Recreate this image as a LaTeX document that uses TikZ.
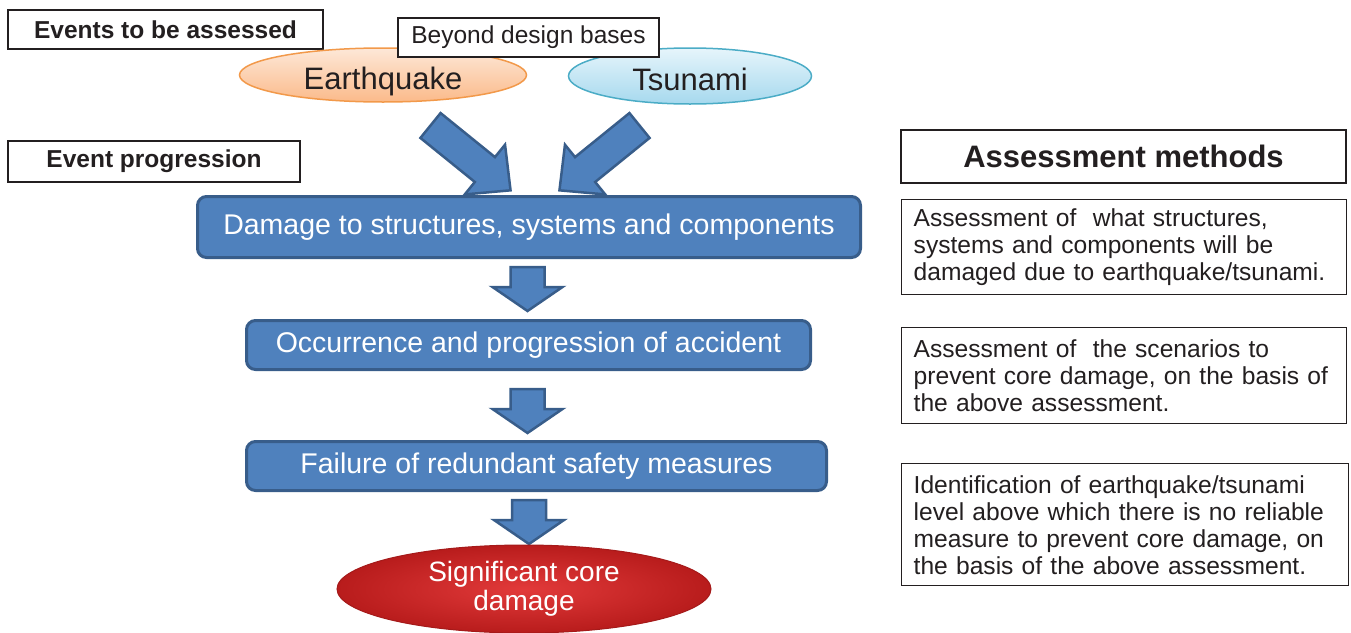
\documentclass[tikz,border=0pt]{standalone}
\usepackage{fontspec}
\setmainfont{Liberation Sans}
\usetikzlibrary{shapes.geometric}
\definecolor{bfill}{HTML}{4F81BD}
\definecolor{bdraw}{HTML}{385D8A}
\definecolor{ink}{HTML}{231F20}
\definecolor{eqtop}{HTML}{FDE8D8}
\definecolor{eqbot}{HTML}{FBBA8A}
\definecolor{eqdraw}{HTML}{F2994A}
\definecolor{tstop}{HTML}{E6F5FB}
\definecolor{tsbot}{HTML}{A6D9EE}
\definecolor{tsdraw}{HTML}{4BACC6}
\definecolor{redin}{HTML}{E23A3A}
\definecolor{redout}{HTML}{B81C1C}
\definecolor{reddraw}{HTML}{A51A1A}
\newcommand\myfs[2]{\fontsize{#1}{#2}\selectfont}
\tikzset{
  labelbox/.style={draw=ink, line width=1.4pt, fill=white, inner sep=0pt, text=ink},
  methodbox/.style={draw=ink, line width=1.4pt, fill=white, inner xsep=12pt, inner ysep=0pt,
    text=ink, align=left, anchor=north west, font=\myfs{24.6}{27}},
  stepbox/.style={draw=bdraw, line width=3pt, fill=bfill, rounded corners=9pt, inner sep=0pt,
    text=white, font=\myfs{28.5}{30}},
  hazard/.style={ellipse, line width=1.5pt, inner sep=0pt, text=ink, font=\myfs{31}{33},
    text height=28pt, text depth=0pt},
  blockarrow/.style={fill=bfill, draw=bdraw, line width=2.5pt, line join=miter},
  darr/.pic={\path[blockarrow] (-17,0) -- (17,0) -- (17,20) -- (35,20) -- (0,44) -- (-35,20) -- (-17,20) -- cycle;}
}
\begin{document}
\begin{tikzpicture}[x=1pt,y=-1pt]
\useasboundingbox (0,0) rectangle (1351,632);

% header label boxes
\node[labelbox, minimum width=315pt, minimum height=39pt, font=\bfseries\myfs{24.5}{26}] (events) at (165.5,29.5) {Events to be assessed};
\node[labelbox, minimum width=292pt, minimum height=41pt, font=\bfseries\myfs{24.5}{26}] (prog) at (154,161.5) {Event progression};

% hazards
\node[hazard, draw=eqdraw, top color=eqtop, bottom color=eqbot, minimum width=287pt, minimum height=54pt] (eq) at (383,75) {Earthquake};
\node[hazard, draw=tsdraw, top color=tstop, bottom color=tsbot, minimum width=243pt, minimum height=56pt] (ts) at (690,76) {Tsunami};
\node[labelbox, minimum width=261pt, minimum height=39pt, font=\myfs{24.5}{26}] (beyond) at (528.5,37.5) {Beyond design bases};

% diagonal block arrows
\begin{scope}[shift={(430.5,125.5)},rotate=-39]
  \path[blockarrow] (0,-16) -- (70,-16) -- (70,-32) -- (103,0) -- (70,32) -- (70,16) -- (0,16) -- cycle;
\end{scope}
\begin{scope}[shift={(639.5,125.5)},rotate=-141]
  \path[blockarrow] (0,-16) -- (70,-16) -- (70,-32) -- (103,0) -- (70,32) -- (70,16) -- (0,16) -- cycle;
\end{scope}

% progression steps
\node[stepbox, minimum width=663pt, minimum height=61pt] (s1) at (529,227) {Damage to structures, systems and components};
\node[stepbox, minimum width=564pt, minimum height=49pt] (s2) at (528.5,345) {Occurrence and progression of accident};
\node[stepbox, minimum width=580pt, minimum height=49pt] (s3) at (536.5,466) {Failure of redundant safety measures};

\pic at (527.5,267) {darr};
\pic at (527.5,389) {darr};
\pic at (529,500) {darr};

\node[ellipse, draw=reddraw, line width=1pt, inner color=redin, outer color=redout, minimum width=374pt, minimum height=88pt, inner sep=0pt, text=white, align=center, font=\myfs{28}{29}] (core) at (524,589) {\raisebox{-3pt}{Significant core}\\\raisebox{-3pt}{damage}};

% assessment methods
\node[labelbox, minimum width=445pt, minimum height=53pt, font=\bfseries\myfs{31}{33}] (am) at (1123.5,156.5) {Assessment methods};
\node[methodbox, minimum width=445pt, minimum height=95pt, text width=421pt] (m1) at (901,199)
  {Assessment of\ \ what structures,\\systems and components will be\\damaged due to earthquake/tsunami.};
\node[methodbox, minimum width=445pt, minimum height=96pt, text width=421pt] (m2) at (901,327)
  {Assessment of\ \ the scenarios to\\prevent core damage, on the basis of\\the above assessment.};
\node[methodbox, minimum width=447pt, minimum height=122pt, text width=423pt] (m3) at (901,463)
  {Identification of earthquake/tsunami\\level above which there is no reliable\\measure to prevent core damage, on\\the basis of the above assessment.};
\end{tikzpicture}
\end{document}
